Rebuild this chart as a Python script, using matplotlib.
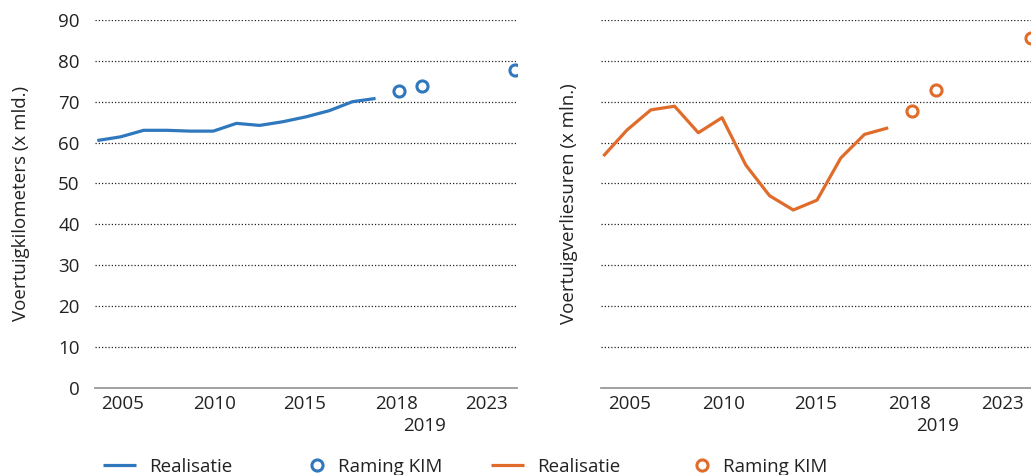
import numpy as np
import matplotlib
matplotlib.use('Agg')
import matplotlib.pyplot as plt

plt.rcParams['font.family'] = ['Open Sans', 'DejaVu Sans']

# data
years_real = [2005, 2006, 2007, 2008, 2009, 2010, 2011, 2012, 2013, 2014, 2015, 2016, 2017]
km_real = [60.5, 61.4, 63.0, 63.0, 62.8, 62.8, 64.7, 64.2, 65.1, 66.3, 67.8, 70.0, 70.8]
vvu_real = [56.7, 63.1, 68.0, 68.9, 62.4, 66.1, 54.5, 47.0, 43.5, 45.9, 56.2, 62.0, 63.6]

years_raming = [2018, 2019, 2023]
km_raming = [72.5, 73.9, 77.8]
vvu_raming = [67.7, 72.8, 85.5]

tick_labels = ['2005', '2010', '2015', '2018', '2023']
extra_label = '2019'
y_ticks = [0, 10, 20, 30, 40, 50, 60, 70, 80, 90]

blue = '#2f78bd'
orange = '#e06c2b'
txt = '#222222'
fs = 13.5

W, H = 1031, 475
fig = plt.figure(figsize=(W/100, H/100), dpi=100)
ax1 = fig.add_axes([95/W, 1-387.7/H, 422/W, 367.7/H])
ax2 = fig.add_axes([601/W, 1-387.7/H, 432/W, 367.7/H])

# label positions on the category-like x axis of the original
tick_pos = [2006.1, 2010.05, 2013.95, 2017.9, 2021.8]
extra_pos = 2019.1

handles = []
for ax, real, raming, col, ylab, lx in [(ax1, km_real, km_raming, blue, 'Voertuigkilometers (x mld.)', -0.154),
                                        (ax2, vvu_real, vvu_raming, orange, 'Voertuigverliesuren (x mln.)', -0.053)]:
    l, = ax.plot(years_real, real, '-', color=col, lw=2.3, solid_capstyle='butt', zorder=3)
    c, = ax.plot(years_raming, raming, 'o', color=col, mfc='white', ms=8, mew=2.2, ls='none', zorder=4)
    handles.append((l, c))
    ax.set_xlim(2004.9, 2023.1)
    ax.set_ylim(0, 90)
    ax.set_yticks(y_ticks)
    ax.yaxis.grid(True, linestyle=(0, (1, 1.6)), color='#222222', lw=0.9)
    ax.set_axisbelow(True)
    for s in ['top', 'right', 'left']:
        ax.spines[s].set_visible(False)
    ax.spines['bottom'].set_color('#9a9a9a')
    ax.spines['bottom'].set_linewidth(1.3)
    ax.spines['bottom'].set_zorder(5)
    ax.set_xticks(tick_pos)
    ax.set_xticklabels(tick_labels, fontsize=fs, color=txt)
    ax.text(extra_pos, -38/367.7, extra_label, transform=ax.get_xaxis_transform(),
            ha='center', va='center', fontsize=fs, color=txt)
    ax.tick_params(axis='x', length=0, pad=5)
    ax.tick_params(axis='y', length=0, pad=11, labelsize=fs, labelcolor=txt)
    ax.set_ylabel(ylab, fontsize=fs, color=txt)
    ax.yaxis.set_label_coords(lx, 0.5)

ax2.tick_params(axis='y', labelleft=False)

# legend at the bottom, one entry at a time
entries = [(handles[0][0], 'Realisatie', 103, 1.75),
           (handles[0][1], 'Raming KIM', 309, 0.85),
           (handles[1][0], 'Realisatie', 491, 1.75),
           (handles[1][1], 'Raming KIM', 694, 0.85)]
for h, lab, x, hl in entries:
    fig.legend([h], [lab], loc='center left', bbox_to_anchor=(x/W, 1-467/H), frameon=False,
               fontsize=fs, handlelength=hl, handletextpad=0.72, borderaxespad=0, borderpad=0,
               labelcolor=txt, numpoints=1)

plt.savefig('out.png', dpi=100)
